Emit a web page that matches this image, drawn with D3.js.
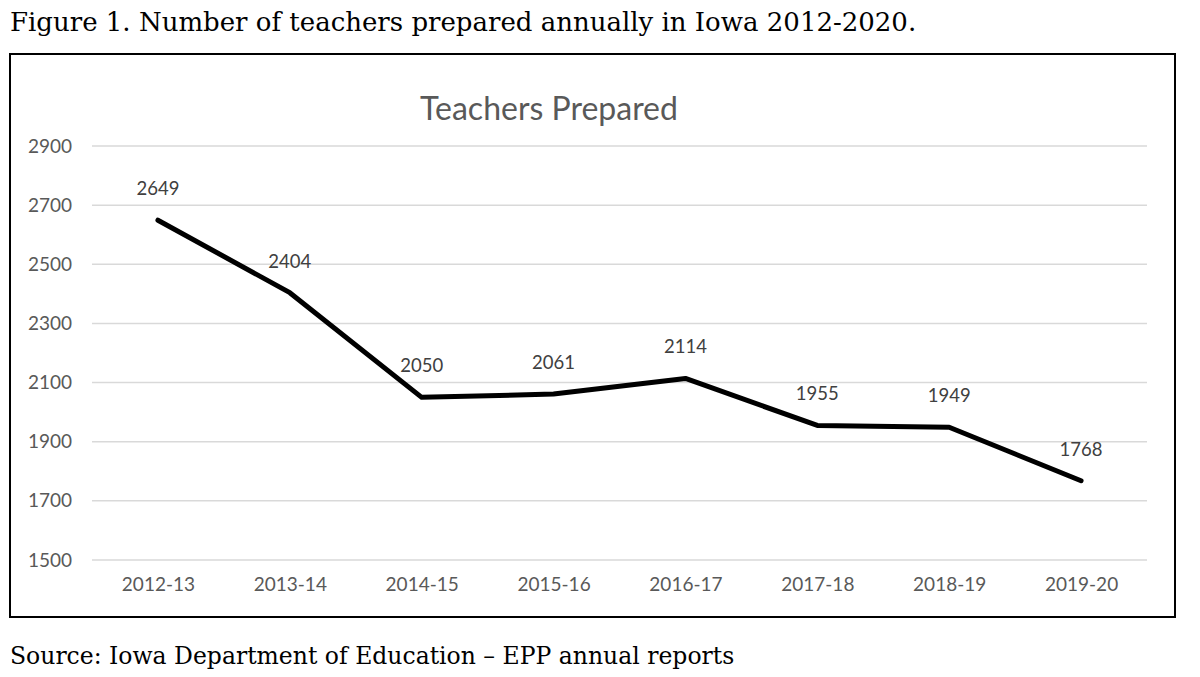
<!DOCTYPE html>
<meta charset="utf-8">
<script src="https://d3js.org/d3.v7.min.js"></script>
<style>
    body { margin: 0; background: #fff; }
</style>
<div id="chart"></div>
<script>
    // Data
    var years = ["2012-13", "2013-14", "2014-15", "2015-16", "2016-17", "2017-18", "2018-19", "2019-20"];
    var teachers = [2649, 2404, 2050, 2061, 2114, 1955, 1949, 1768];
    var yTicks = [1500, 1700, 1900, 2100, 2300, 2500, 2700, 2900];

    var W = 1200, H = 677;
    var svg = d3.select("#chart").append("svg")
        .attr("width", W).attr("height", H);

    // figure caption
    svg.append("text")
        .attr("x", 10).attr("y", 31)
        .attr("font-family", "DejaVu Serif, serif")
        .attr("font-size", 26)
        .attr("fill", "#000")
        .text("Figure 1. Number of teachers prepared annually in Iowa 2012-2020.");

    svg.append("text")
        .attr("x", 10).attr("y", 664)
        .attr("font-family", "DejaVu Serif, serif")
        .attr("font-size", 23.5)
        .attr("fill", "#000")
        .text("Source: Iowa Department of Education \u2013 EPP annual reports");

    // chart border
    svg.append("rect")
        .attr("x", 10).attr("y", 54)
        .attr("width", 1165).attr("height", 563)
        .attr("fill", "none").attr("stroke", "#000").attr("stroke-width", 2);

    var plotLeft = 92, plotRight = 1147, plotTop = 146, plotBottom = 560;

    var x = d3.scalePoint().domain(years).range([plotLeft, plotRight]).padding(0.5);
    var y = d3.scaleLinear().domain([1500, 2900]).range([plotBottom, plotTop]);

    var font = "Lato, Noto Sans, sans-serif";

    // gridlines
    svg.append("g").selectAll("line")
        .data(yTicks).join("line")
        .attr("x1", plotLeft).attr("x2", plotRight)
        .attr("y1", function (d) { return y(d); })
        .attr("y2", function (d) { return y(d); })
        .attr("stroke", "#d9d9d9").attr("stroke-width", 1.5);

    // y axis labels
    var yAxis = svg.append("g")
        .attr("transform", "translate(" + plotLeft + ",0)")
        .call(d3.axisLeft(y).tickValues(yTicks).tickSize(0).tickPadding(20).tickFormat(d3.format("d")));
    yAxis.select(".domain").remove();
    yAxis.selectAll("text")
        .attr("font-family", font).attr("font-size", 19).attr("fill", "#595959");

    // x axis labels
    var xAxis = svg.append("g")
        .attr("transform", "translate(0," + plotBottom + ")")
        .call(d3.axisBottom(x).tickSize(0).tickPadding(18));
    xAxis.select(".domain").remove();
    xAxis.selectAll("text")
        .attr("font-family", font).attr("font-size", 19).attr("fill", "#595959");

    // chart title
    svg.append("text")
        .attr("x", 549).attr("y", 120)
        .attr("text-anchor", "middle")
        .attr("font-family", font).attr("font-size", 32)
        .attr("fill", "#595959")
        .text("Teachers Prepared");

    // line
    var line = d3.line()
        .x(function (d, i) { return x(years[i]); })
        .y(function (d) { return y(d); });

    svg.append("path")
        .datum(teachers)
        .attr("d", line)
        .attr("fill", "none")
        .attr("stroke", "#000")
        .attr("stroke-width", 5)
        .attr("stroke-linejoin", "round")
        .attr("stroke-linecap", "round");

    // data labels
    svg.append("g").selectAll("text")
        .data(teachers).join("text")
        .attr("x", function (d, i) { return x(years[i]); })
        .attr("y", function (d) { return y(d) - 25; })
        .attr("text-anchor", "middle")
        .attr("font-family", font).attr("font-size", 18.5)
        .attr("fill", "#404040")
        .text(function (d) { return d; });
</script>
